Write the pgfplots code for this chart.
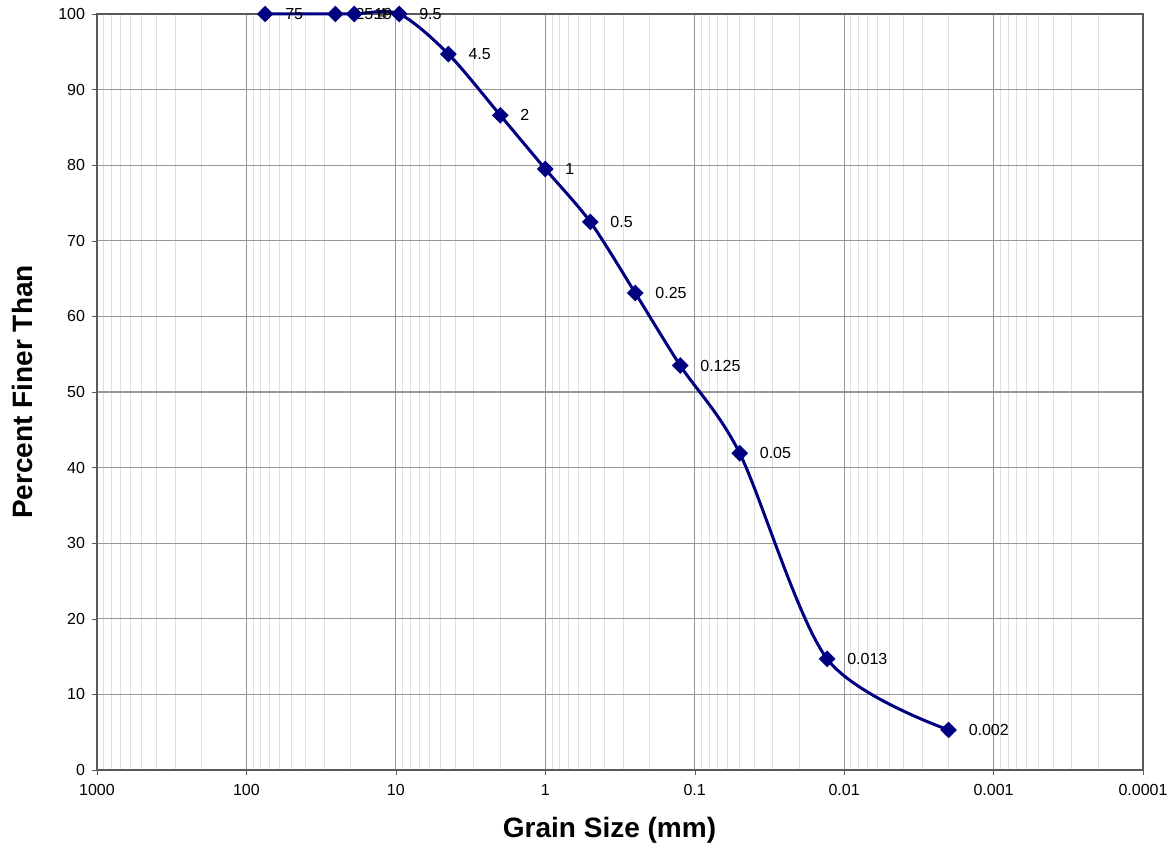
\documentclass[border=0pt]{standalone}
\usepackage{pgfplots}
\pgfplotsset{compat=1.18}
\usetikzlibrary{calc}
\usepackage{fontspec}
\setmainfont{Liberation Sans}
\definecolor{navyline}{RGB}{0,0,128}
\definecolor{majgrid}{RGB}{150,150,150}
\definecolor{mingrid}{RGB}{222,222,222}
\definecolor{frame}{RGB}{90,90,90}
\begin{document}
\begin{tikzpicture}
\begin{axis}[
    name=ax,
    scale only axis,
    width=523pt, height=378pt,
    xmode=log, log basis x=10,
    x dir=reverse,
    xmin=0.0001, xmax=1000,
    ymin=0, ymax=100,
    xtick={1000,100,10,1,0.1,0.01,0.001,0.0001},
    xticklabels={1000,100,10,1,0.1,0.01,0.001,0.0001},
    minor xtick={2e-4,3e-4,4e-4,5e-4,6e-4,7e-4,8e-4,9e-4,
                 2e-3,3e-3,4e-3,5e-3,6e-3,7e-3,8e-3,9e-3,
                 0.02,0.03,0.04,0.05,0.06,0.07,0.08,0.09,
                 0.2,0.3,0.4,0.5,0.6,0.7,0.8,0.9,
                 2,3,4,5,6,7,8,9,
                 20,30,40,50,60,70,80,90,
                 200,300,400,500,600,700,800,900},
    ytick={0,10,...,100},
    xmajorgrids, xminorgrids, ymajorgrids,
    major grid style={majgrid, line width=0.6pt},
    minor grid style={mingrid, line width=0.5pt},
    axis line style={frame, line width=0.8pt},
    tick pos=left, tick align=outside,
    major tick length=2.5pt, minor tick length=0pt,
    tick style={frame},
    ticklabel style={font=\fontsize{8}{9}\selectfont},
    /pgf/number format/assume math mode=true,
    xticklabel style={yshift=-1pt},
    xlabel={Grain Size (mm)},
    ylabel={Percent Finer Than},
    xlabel style={font=\bfseries\fontsize{14}{16}\selectfont, at={(axis description cs:0.49,0)}, yshift=-20pt},
    ylabel style={font=\bfseries\fontsize{14}{16}\selectfont, yshift=6pt},
    clip=false,
    nodes near coords,
    point meta=explicit symbolic,
    every node near coord/.append style={font=\fontsize{8}{9}\selectfont, anchor=west, xshift=6pt, yshift=0pt, text=black},
]
\addplot[navyline, line width=1.5pt, smooth, tension=0.5,
    mark=square*, mark size=2.2pt, mark options={fill=navyline, solid, rotate=45}]
    coordinates {
    (75,100) [75]
    (25.4,100) [25.4]
    (19,100) [19]
    (9.5,100) [9.5]
    (4.45,94.7) [4.5]
    (2,86.6) [2]
    (1,79.5) [1]
    (0.5,72.5) [0.5]
    (0.25,63.1) [0.25]
    (0.125,53.5) [0.125]
    (0.05,41.9) [0.05]
    (0.013,14.7) [0.013]
    (0.002,5.3) [0.002]
    };
\end{axis}
\path (ax.south west) ++(-48.5pt,-38.5pt) rectangle ($(ax.north east)+(16pt,7pt)$);
\end{tikzpicture}
\end{document}
